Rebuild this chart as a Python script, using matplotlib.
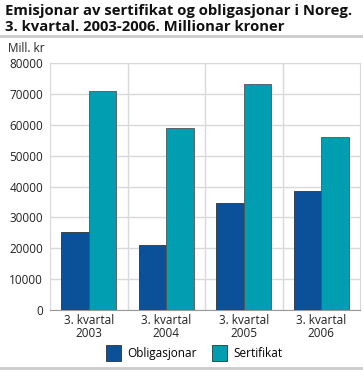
import matplotlib.pyplot as plt
import numpy as np
from matplotlib.patches import Rectangle
from matplotlib.lines import Line2D

plt.rcParams["font.family"] = ["Open Sans", "DejaVu Sans"]

categories = ["3. kvartal\n2003", "3. kvartal\n2004", "3. kvartal\n2005", "3. kvartal\n2006"]
obligasjonar = [25200, 21000, 34700, 38500]
sertifikat = [71000, 58800, 73300, 56100]
series_labels = ["Obligasjonar", "Sertifikat"]
colors = ["#0b5199", "#009eb0"]
grid_color = "#d9d9d9"

fig = plt.figure(figsize=(3.63, 3.70), dpi=100)
ax = fig.add_axes([50 / 363, 1 - 310 / 370, 310 / 363, 247 / 370])

x = np.arange(len(categories))
width = 0.355
ax.bar(x - width / 2, obligasjonar, width, color=colors[0], edgecolor="#333333",
       linewidth=0.6, label=series_labels[0], zorder=3)
ax.bar(x + width / 2, sertifikat, width, color=colors[1], edgecolor="#555555",
       linewidth=0.6, label=series_labels[1], zorder=3)

ax.set_xlim(-0.5, len(categories) - 0.5)
ax.set_ylim(0, 80000)
ax.set_yticks(np.arange(0, 80001, 10000))
ax.set_xticks(x)
ax.set_xticklabels(categories, fontsize=8.5, color="#222222", linespacing=0.95)
ax.tick_params(axis="y", labelsize=8.5, labelcolor="#222222", length=0, pad=5)
ax.tick_params(axis="x", length=0, pad=3)

ax.grid(axis="y", color=grid_color, linewidth=1, zorder=0)
for b in np.arange(0.5, len(categories) - 0.5, 1):
    ax.axvline(b, color=grid_color, linewidth=1, zorder=0)
for side in ["top", "right", "left"]:
    ax.spines[side].set_color(grid_color)
ax.spines["bottom"].set_color("#999999")

fig.text(8 / 363, 1 - 48 / 370, "Mill. kr", fontsize=8.5, color="#222222",
         ha="left", va="center")

fig.text(5 / 363, 1 - 11 / 370, "Emisjonar av sertifikat og obligasjonar i Noreg.",
         fontsize=10.7, fontweight="bold", va="center", color="#111111")
fig.text(5 / 363, 1 - 27 / 370, "3. kvartal. 2003-2006. Millionar kroner",
         fontsize=10.7, fontweight="bold", va="center", color="#111111")

fig.add_artist(Line2D([0, 1], [1 - 36 / 370, 1 - 36 / 370], color="#cccccc", linewidth=2))
fig.add_artist(Line2D([0, 1], [1 - 368 / 370, 1 - 368 / 370], color="#cccccc", linewidth=2))

handles = [Rectangle((0, 0), 1, 1, facecolor=c, edgecolor="#333333", linewidth=0.6) for c in colors]
fig.legend(handles, series_labels, loc="center", bbox_to_anchor=(0.535, 1 - 353 / 370),
           ncol=2, frameon=False, fontsize=8.5, handlelength=1.3, handleheight=1.6,
           columnspacing=1.3, handletextpad=0.5)

fig.savefig("out.png", dpi=100)
